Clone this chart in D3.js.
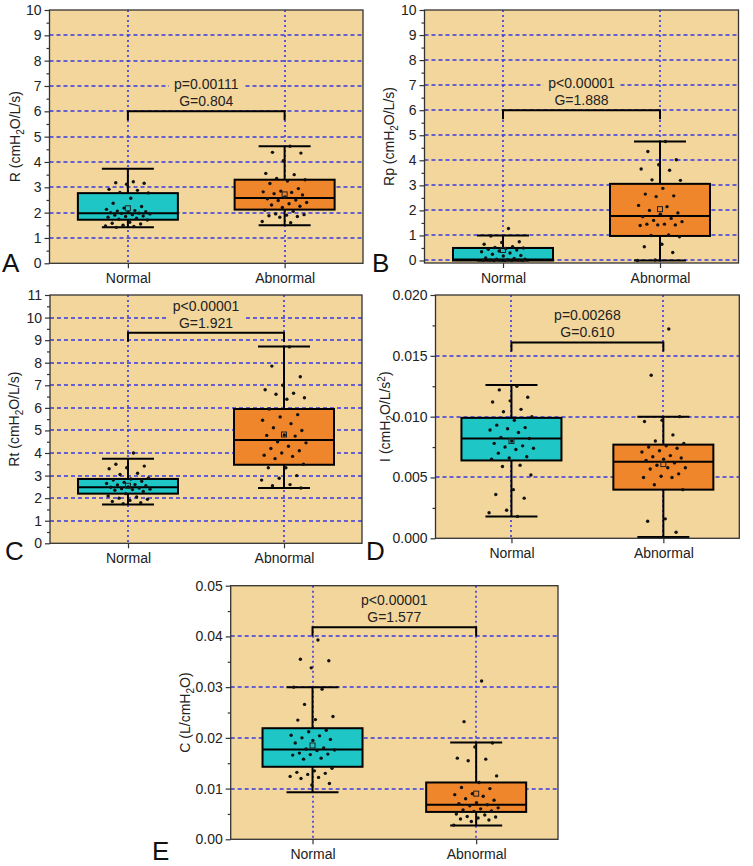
<!DOCTYPE html>
<html>
<head>
<meta charset="utf-8">
<script src="https://cdn.jsdelivr.net/npm/d3@7"></script>
<style>
body { margin: 0; background: #fff; }
svg { display: block; font-family: "Liberation Sans", Arial, sans-serif; }
</style>
</head>
<body>
<svg id="chart" width="753" height="866"></svg>
<script>
var categories = ['Normal', 'Abnormal'];
var boxColors = ['#1ec6c6', '#f0862c'];

// box stats per group: whisker low, q1, median, q3, whisker high, mean
var rStats = [[1.42, 1.72, 1.98, 2.77, 3.73, 2.17], [1.50, 2.12, 2.58, 3.30, 4.62, 2.72]];
var rpStats = [[0.00, 0.00, 0.04, 0.50, 1.00, 0.42], [0.00, 0.98, 1.78, 3.06, 4.75, 2.05]];
var rtStats = [[1.72, 2.20, 2.48, 2.85, 3.75, 2.55], [2.45, 3.48, 4.58, 5.95, 8.72, 4.82]];
var iStats = [[0.0018, 0.0064, 0.0082, 0.0099, 0.0126, 0.0080], [0.0001, 0.0040, 0.0063, 0.0077, 0.0100, 0.0061]];
var cStats = [[0.0093, 0.0143, 0.0177, 0.0219, 0.0300, 0.0185], [0.0027, 0.0054, 0.0068, 0.0112, 0.0191, 0.0090]];

var rNormal = [3.22, 3.18, 3.16, 3.12, 2.92, 2.88, 2.80, 2.78, 2.57, 2.37, 2.24, 2.18, 2.13, 2.08, 2.06, 2.04, 2.02, 2.00,
    1.98, 1.97, 1.95, 1.92, 1.90, 1.87, 1.85, 1.82, 1.78, 1.74, 1.71, 1.62, 1.58, 1.55, 1.50, 1.47, 1.45, 1.42];
var rAbnormal = [4.62, 4.38, 4.35, 4.05, 3.55, 3.50, 3.35, 3.30, 3.25, 3.15, 2.95, 2.85, 2.82, 2.80, 2.75, 2.70, 2.62, 2.55,
    2.50, 2.48, 2.40, 2.35, 2.30, 2.25, 2.20, 2.10, 2.05, 1.95, 1.92, 1.90, 1.88, 1.85, 1.82, 1.65, 1.60];
var rpNormal = [1.28, 0.98, 0.75, 0.72, 0.65, 0.55, 0.52, 0.50, 0.48, 0.45, 0.42, 0.38, 0.35, 0.30, 0.25, 0.20, 0.18, 0.10,
    0.08, 0.05, 0.05, 0.03, 0.02, 0.02, 0.01, 0.01, 0.00, 0.00, 0.00, 0.00];
var rpAbnormal = [4.75, 4.35, 4.02, 3.82, 3.65, 3.60, 3.22, 3.20, 2.88, 2.65, 2.58, 2.55, 2.20, 2.15, 2.00, 1.90, 1.85, 1.75,
    1.68, 1.60, 1.55, 1.45, 1.45, 1.42, 1.42, 1.40, 1.02, 1.00, 0.95, 0.65, 0.55, 0.32, 0.02, 0.00];
var rtNormal = [4.00, 3.50, 3.42, 3.35, 3.30, 3.10, 3.05, 2.90, 2.85, 2.80, 2.75, 2.70, 2.65, 2.60, 2.58, 2.55, 2.50, 2.48,
    2.45, 2.42, 2.40, 2.38, 2.35, 2.30, 2.20, 2.10, 2.05, 2.00, 1.95, 1.90, 1.85, 1.80, 1.75];
var rtAbnormal = [8.70, 7.85, 7.38, 7.00, 6.80, 6.65, 6.60, 6.45, 6.38, 5.95, 5.70, 5.60, 5.45, 5.30, 5.12, 5.00, 4.80, 4.78,
    4.75, 4.50, 4.45, 4.30, 4.20, 4.10, 4.00, 3.90, 3.85, 3.75, 3.50, 3.35, 3.35, 3.00, 2.88, 2.80, 2.60, 2.55, 2.45];
var iNormal = [0.0125, 0.0122, 0.0116, 0.0113, 0.0112, 0.0106, 0.0104, 0.0100, 0.0097, 0.0093, 0.0091, 0.0090, 0.0089,
    0.0087, 0.0083, 0.0082, 0.0080, 0.0078, 0.0076, 0.0075, 0.0074, 0.0073, 0.0070, 0.0067, 0.0066, 0.0065, 0.0060,
    0.0059, 0.0052, 0.0040, 0.0036, 0.0033, 0.0023, 0.0021, 0.0018];
var iAbnormal = [0.0172, 0.0134, 0.0100, 0.0097, 0.0096, 0.0085, 0.0080, 0.0078, 0.0076, 0.0075, 0.0074, 0.0072, 0.0071,
    0.0068, 0.0067, 0.0066, 0.0065, 0.0064, 0.0062, 0.0060, 0.0058, 0.0058, 0.0057, 0.0053, 0.0051, 0.0050, 0.0050,
    0.0044, 0.0040, 0.0016, 0.0014, 0.0005];
var cNormal = [0.0393, 0.0355, 0.0352, 0.0338, 0.0300, 0.0296, 0.0266, 0.0242, 0.0236, 0.0235, 0.0215, 0.0212, 0.0205,
    0.0204, 0.0200, 0.0197, 0.0195, 0.0190, 0.0180, 0.0178, 0.0176, 0.0175, 0.0170, 0.0168, 0.0167, 0.0166, 0.0160,
    0.0158, 0.0140, 0.0135, 0.0132, 0.0130, 0.0128, 0.0124, 0.0122, 0.0120, 0.0110, 0.0107];
var cAbnormal = [0.0312, 0.0232, 0.0190, 0.0182, 0.0160, 0.0158, 0.0155, 0.0125, 0.0112, 0.0102, 0.0100, 0.0090, 0.0088,
    0.0085, 0.0080, 0.0077, 0.0072, 0.0070, 0.0068, 0.0066, 0.0062, 0.0060, 0.0058, 0.0056, 0.0055, 0.0050, 0.0048,
    0.0045, 0.0044, 0.0042, 0.0040, 0.0038, 0.0035, 0.0028];

var ticks10 = [0, 1, 2, 3, 4, 5, 6, 7, 8, 9, 10];
var ticks11 = [0, 1, 2, 3, 4, 5, 6, 7, 8, 9, 10, 11];
var ticksI = [0, 0.005, 0.010, 0.015, 0.020];
var ticksC = [0, 0.01, 0.02, 0.03, 0.04, 0.05];

function BoxPanel(opts) {
    for (var k in opts) this[k] = opts[k];
}

BoxPanel.prototype.draw = function(svg) {
    var p = this,
        r = p.rect,
        g = svg.append('g'),
        bg = '#f3d69c',
        gridColor = '#3838e0';

    var x = d3.scalePoint().domain(categories).range([r[0], r[2]]).padding(0.5),
        y = d3.scaleLinear().domain(p.yDomain).range([r[3], r[1]]);

    g.append('rect')
        .attr('x', r[0]).attr('y', r[1])
        .attr('width', r[2] - r[0]).attr('height', r[3] - r[1])
        .style('fill', bg);

    // dashed grid, skipping lines that sit on the frame
    g.selectAll('line.hgrid')
        .data(p.yTicks.filter(function(t) { return y(t) < r[3] - 1 && y(t) > r[1] + 1; }))
        .enter().append('line')
        .attr('class', 'hgrid')
        .attr('x1', r[0]).attr('x2', r[2])
        .attr('y1', function(d) { return Math.round(y(d)); })
        .attr('y2', function(d) { return Math.round(y(d)); })
        .style('stroke', gridColor).style('stroke-width', 1.6)
        .style('stroke-dasharray', '4,3');

    g.selectAll('line.vgrid')
        .data(categories)
        .enter().append('line')
        .attr('class', 'vgrid')
        .attr('x1', function(d) { return Math.round(x(d)); })
        .attr('x2', function(d) { return Math.round(x(d)); })
        .attr('y1', r[1]).attr('y2', r[3])
        .style('stroke', gridColor).style('stroke-width', 1.6)
        .style('stroke-dasharray', '2,3');

    // p and G text sit on a patch of background that hides the grid
    var by = y(p.bracketY),
        x0 = x(categories[0]),
        x1 = x(categories[1]),
        notes = g.append('g');

    notes.append('text')
        .attr('x', (x0 + x1) / 2).attr('y', by - 5 - 17)
        .attr('text-anchor', 'middle').attr('font-size', 14)
        .style('fill', '#222')
        .text(p.pText);

    notes.append('text')
        .attr('x', (x0 + x1) / 2).attr('y', by - 5)
        .attr('text-anchor', 'middle').attr('font-size', 14)
        .style('fill', '#222')
        .text(p.gText);

    var bb = notes.node().getBBox();
    notes.insert('rect', 'text')
        .attr('x', bb.x - 5).attr('y', bb.y)
        .attr('width', bb.width + 10).attr('height', bb.height)
        .style('fill', bg);

    var boxW = 100,
        capW = 52;

    categories.forEach(function(cat, ci) {
        var s = p.stats[ci],
            cx = x(cat);

        g.append('line')
            .attr('x1', cx).attr('x2', cx)
            .attr('y1', y(s[0])).attr('y2', y(s[4]))
            .style('stroke', '#000').style('stroke-width', 2);

        [s[0], s[4]].forEach(function(v) {
            g.append('line')
                .attr('x1', cx - capW / 2).attr('x2', cx + capW / 2)
                .attr('y1', y(v)).attr('y2', y(v))
                .style('stroke', '#000').style('stroke-width', 2);
        });

        g.append('rect')
            .attr('x', cx - boxW / 2).attr('width', boxW)
            .attr('y', y(s[3])).attr('height', y(s[1]) - y(s[3]))
            .style('fill', boxColors[ci])
            .style('stroke', '#000').style('stroke-width', 2);

        g.append('line')
            .attr('x1', cx - boxW / 2).attr('x2', cx + boxW / 2)
            .attr('y1', y(s[2])).attr('y2', y(s[2]))
            .style('stroke', '#000').style('stroke-width', 2);

        // deterministic jitter so the dots spread sideways
        g.selectAll('circle.pt' + ci)
            .data(p.points[ci])
            .enter().append('circle')
            .attr('class', 'pt' + ci)
            .attr('cx', function(d, i) { return cx + (((i + 1) * 0.618034) % 1 - 0.5) * 46; })
            .attr('cy', function(d) { return y(d); })
            .attr('r', 1.7)
            .style('fill', '#111');

        g.append('rect')
            .attr('x', cx - 2.5).attr('y', y(s[5]) - 2.5)
            .attr('width', 5).attr('height', 5)
            .style('fill', 'none')
            .style('stroke', '#222').style('stroke-width', 1);
    });

    g.append('rect')
        .attr('x', r[0]).attr('y', r[1])
        .attr('width', r[2] - r[0]).attr('height', r[3] - r[1])
        .style('fill', 'none')
        .style('stroke', '#333').style('stroke-width', 1.3);

    var fontFam = '"Liberation Sans", Arial, sans-serif';

    var yAxis = g.append('g')
        .attr('transform', 'translate(' + r[0] + ',0)')
        .call(d3.axisLeft(y).tickValues(p.yTicks).tickSize(5).tickSizeOuter(0).tickPadding(3).tickFormat(p.fmt));
    yAxis.select('.domain').remove();

    var minor = g.append('g')
        .attr('transform', 'translate(' + r[0] + ',0)')
        .call(d3.axisLeft(y).tickValues(p.minorTicks).tickSize(3).tickSizeOuter(0).tickFormat(''));
    minor.select('.domain').remove();

    var xAxis = g.append('g')
        .attr('transform', 'translate(0,' + r[3] + ')')
        .call(d3.axisBottom(x).tickSize(5).tickSizeOuter(0).tickPadding(5));
    xAxis.select('.domain').remove();

    [yAxis, minor, xAxis].forEach(function(a) {
        a.attr('font-size', 14).attr('font-family', fontFam);
        a.selectAll('line').style('stroke', '#333').style('stroke-width', 1.2);
        a.selectAll('text').style('fill', '#222');
    });

    var lab = g.append('text')
        .attr('transform', 'translate(' + (r[0] - p.labelOff) + ',' + (r[1] + r[3]) / 2 + ') rotate(-90)')
        .attr('text-anchor', 'middle')
        .attr('font-size', 14)
        .style('fill', '#222');
    p.label.forEach(function(part) {
        var t = lab.append('tspan').text(part[0]);
        if (part[1] === 'sub') t.attr('font-size', 10).attr('dy', 4);
        if (part[1] === 'sup') t.attr('font-size', 10).attr('dy', -5);
        if (part[1] === 'back') t.attr('dy', part[2]);
    });

    // bracket between the two groups
    g.append('path')
        .attr('d', 'M' + x0 + ',' + (by + 9) + 'V' + by + 'H' + x1 + 'V' + (by + 9))
        .style('fill', 'none')
        .style('stroke', '#000').style('stroke-width', 2);

    g.append('text')
        .attr('x', p.letterPos[0]).attr('y', p.letterPos[1])
        .attr('font-size', 26)
        .style('fill', '#111')
        .text(p.letter);
};

(function() {
    var svg = d3.select('#chart');

    new BoxPanel({
        letter: 'A', letterPos: [2, 272],
        label: [['R (cmH'], ['2', 'sub'], ['O/L/s)', 'back', -4]], labelOff: 30,
        stats: rStats, points: [rNormal, rAbnormal],
        yDomain: [0, 10], yTicks: ticks10, minorTicks: d3.range(0.5, 10, 1), fmt: d3.format('d'),
        bracketY: 6, pText: 'p=0.00111', gText: 'G=0.804',
        rect: [49.5, 10, 363, 263.3]
    }).draw(svg);

    new BoxPanel({
        letter: 'B', letterPos: [372, 272],
        label: [['Rp (cmH'], ['2', 'sub'], ['O/L/s)', 'back', -4]], labelOff: 31,
        stats: rpStats, points: [rpNormal, rpAbnormal],
        yDomain: [-0.1, 10], yTicks: ticks10, minorTicks: d3.range(0.5, 10, 1), fmt: d3.format('d'),
        bracketY: 6, pText: 'p<0.00001', gText: 'G=1.888',
        rect: [424.5, 10, 738.5, 263]
    }).draw(svg);

    new BoxPanel({
        letter: 'C', letterPos: [5, 560],
        label: [['Rt (cmH'], ['2', 'sub'], ['O/L/s)', 'back', -4]], labelOff: 31,
        stats: rtStats, points: [rtNormal, rtAbnormal],
        yDomain: [0, 11], yTicks: ticks11, minorTicks: d3.range(0.5, 11, 1), fmt: d3.format('d'),
        bracketY: 9.33, pText: 'p<0.00001', gText: 'G=1.921',
        rect: [50, 295, 362, 543.3]
    }).draw(svg);

    new BoxPanel({
        letter: 'D', letterPos: [366, 560],
        label: [['I (cmH'], ['2', 'sub'], ['O/L/s', 'back', -4], ['2', 'sup'], [')', 'back', 5]], labelOff: 46,
        stats: iStats, points: [iNormal, iAbnormal],
        yDomain: [0, 0.02], yTicks: ticksI, minorTicks: d3.range(0.0025, 0.02, 0.005), fmt: d3.format('.3f'),
        bracketY: 0.0161, pText: 'p=0.00268', gText: 'G=0.610',
        rect: [435.5, 295, 739.3, 538.3]
    }).draw(svg);

    new BoxPanel({
        letter: 'E', letterPos: [152, 860],
        label: [['C (L/cmH'], ['2', 'sub'], ['O)', 'back', -4]], labelOff: 41,
        stats: cStats, points: [cNormal, cAbnormal],
        yDomain: [0, 0.05], yTicks: ticksC, minorTicks: d3.range(0.005, 0.05, 0.01), fmt: d3.format('.2f'),
        bracketY: 0.0418, pText: 'p<0.00001', gText: 'G=1.577',
        rect: [230.7, 585.7, 558, 839.3]
    }).draw(svg);
}());
</script>
</body>
</html>
